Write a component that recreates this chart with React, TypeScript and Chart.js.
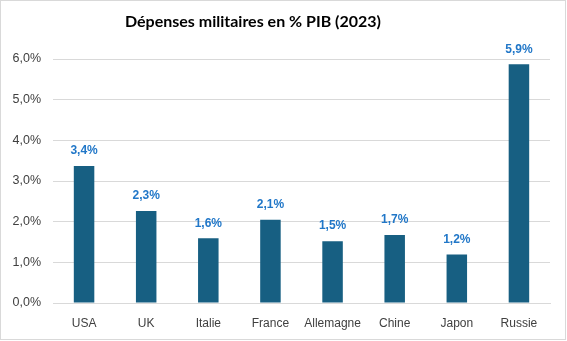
import React, { useEffect, useRef } from "react";
import { Chart, registerables } from "chart.js";

Chart.register(...registerables);

const titleText = "Dépenses militaires en % PIB (2023)";
const categories = ["USA", "UK", "Italie", "France", "Allemagne", "Chine", "Japon", "Russie"];
const values = [3.37, 2.26, 1.59, 2.05, 1.52, 1.67, 1.19, 5.87];
const labelsText = ["3,4%", "2,3%", "1,6%", "2,1%", "1,5%", "1,7%", "1,2%", "5,9%"];

const W = 567;
const H = 341;

export default function App() {
  const ref = useRef<HTMLCanvasElement | null>(null);

  useEffect(() => {
    document.body.style.margin = "0";
    const canvas = ref.current;
    if (!canvas) return;

    const decor = {
      id: "decor",
      beforeDraw(chart: any) {
        const ctx = chart.ctx;
        ctx.save();
        ctx.fillStyle = "#ffffff";
        ctx.fillRect(0, 0, W, H);
        ctx.strokeStyle = "#d9d9d9";
        ctx.lineWidth = 1;
        ctx.strokeRect(0.5, 0.5, W - 2, H - 2);
        ctx.fillStyle = "#000000";
        ctx.font = "bold 16px 'Lato'";
        ctx.textAlign = "center";
        ctx.textBaseline = "middle";
        ctx.fillText(titleText, 253, 22);
        ctx.restore();
      },
      afterDatasetsDraw(chart: any) {
        const ctx = chart.ctx;
        const meta = chart.getDatasetMeta(0);
        ctx.save();
        ctx.fillStyle = "#2177c8";
        ctx.font = "bold 12px 'Liberation Sans'";
        ctx.textAlign = "center";
        ctx.textBaseline = "middle";
        meta.data.forEach((el: any, i: number) => {
          ctx.fillText(labelsText[i], el.x, el.y - 15);
        });
        ctx.restore();
      },
    };

    const chart = new Chart(canvas, {
      type: "bar",
      data: {
        labels: categories,
        datasets: [
          {
            data: values,
            backgroundColor: "#175f82",
            borderColor: "#175f82",
            borderWidth: 0,
            categoryPercentage: 1,
            barPercentage: 0.33,
          },
        ],
      },
      options: {
        animation: false,
        responsive: false,
        devicePixelRatio: 1,
        layout: { padding: { left: 0, right: 17, top: 59, bottom: 0 } },
        plugins: {
          legend: { display: false },
          title: { display: false },
          tooltip: { enabled: false },
        },
        scales: {
          x: {
            grid: { display: false, drawTicks: false },
            border: { display: true, color: "#d9d9d9", width: 1 },
            ticks: {
              color: "#404040",
              font: { family: "'Liberation Sans'", size: 12 },
              padding: 13,
              maxRotation: 0,
              minRotation: 0,
              autoSkip: false,
            },
            afterFit(scale: any) {
              scale.height = 38;
            },
          },
          y: {
            min: 0,
            max: 6,
            grid: { color: "#d9d9d9", lineWidth: 1, drawTicks: false },
            border: { display: false },
            ticks: {
              stepSize: 1,
              color: "#404040",
              font: { family: "'Liberation Sans'", size: 12.5 },
              padding: 12,
              callback: (v: any) => Number(v).toFixed(1).replace(".", ",") + "%",
            },
            afterFit(scale: any) {
              scale.width = 53;
            },
          },
        },
      },
      plugins: [decor],
    });

    return () => chart.destroy();
  }, []);

  return (
    <div style={{ width: W, height: H }}>
      <canvas ref={ref} width={W} height={H} style={{ width: W, height: H, display: "block" }} />
    </div>
  );
}
